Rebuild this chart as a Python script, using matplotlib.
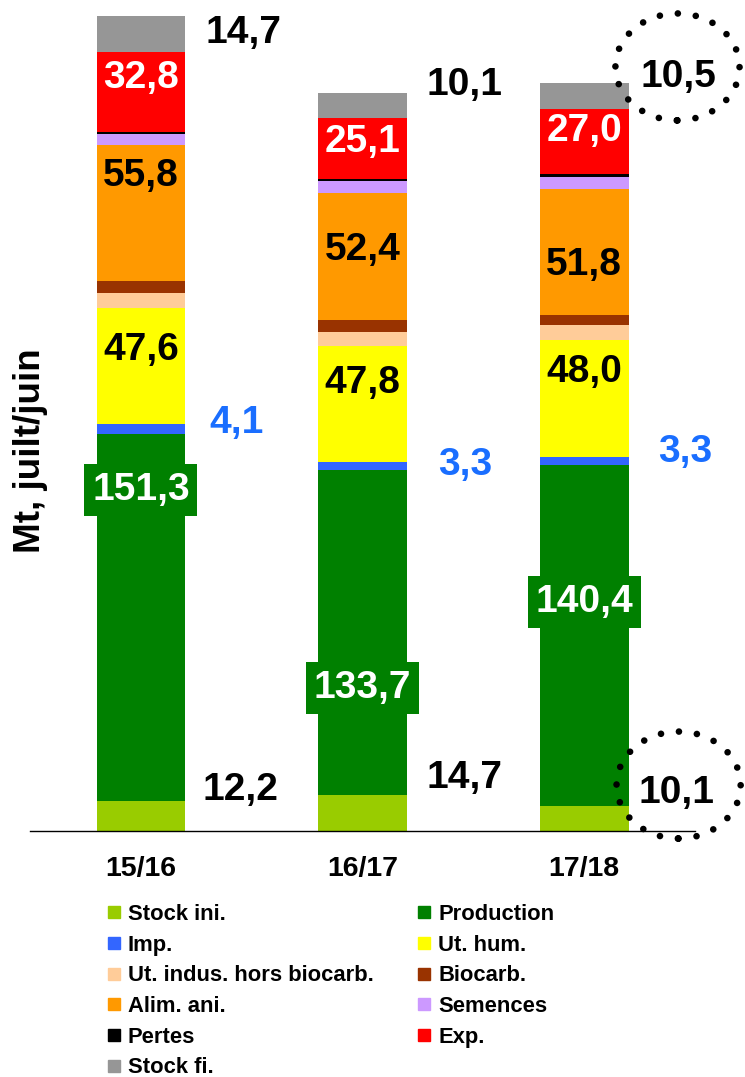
import matplotlib
matplotlib.use("Agg")
import numpy as np
import matplotlib.pyplot as plt
from matplotlib.lines import Line2D
from matplotlib.patches import Ellipse

plt.rcParams["font.family"] = ["Liberation Sans", "DejaVu Sans"]
plt.rcParams["font.weight"] = "bold"

# campagnes (juillet/juin)
campagnes = ["15/16", "16/17", "17/18"]

# disponibilités
stock_ini = [12.2, 14.7, 10.1]
production = [151.3, 133.7, 140.4]
imp = [4.1, 3.3, 3.3]
# utilisations
ut_hum = [47.6, 47.8, 48.0]
ut_indus = [6.2, 5.9, 6.2]
biocarb = [4.8, 4.6, 4.3]
alim_ani = [55.8, 52.4, 51.8]
semences = [4.9, 5.0, 5.0]
pertes = [0.8, 0.8, 1.0]
exports = [32.8, 25.1, 27.0]
stock_fi = [14.7, 10.1, 10.5]

noms = ["Stock ini.", "Production", "Imp.", "Ut. hum.",
        "Ut. indus. hors biocarb.", "Biocarb.", "Alim. ani.",
        "Semences", "Pertes", "Exp.", "Stock fi."]
valeurs = [stock_ini, production, imp, ut_hum, ut_indus, biocarb,
           alim_ani, semences, pertes, exports, stock_fi]
couleurs = ["#99CC00", "#008000", "#3366FF", "#FFFF00", "#FFCC99",
            "#993300", "#FF9900", "#CC99FF", "#000000", "#FF0000", "#969696"]

# placement des étiquettes (décalage vertical en Mt depuis le centre du segment)
decal = {
    "Stock ini.": [10.8, 14.5, 10.5],
    "Production": [52.4, -22.8, 13.9],
    "Imp.": [2.3, 0.5, 3.8],
    "Ut. hum.": [6.5, 8.7, 11.0],
    "Alim. ani.": [15.5, 2.8, -5.4],
    "Exp.": [5.8, 2.6, 4.3],
    "Stock fi.": [0.5, 8.6, 7.8],
}
ecart_ext = {
    "Stock ini.": [0.08, 0.09, 0.045],
    "Imp.": [0.11, 0.14, 0.135],
    "Stock fi.": [0.09, 0.09, 0.054],
}

fig = plt.figure(figsize=(7.45, 10.77), dpi=100)
px_mt = 2.431
ymax = 340
ax = fig.add_axes([30 / 745, (1077 - 831) / 1077, 665 / 745, ymax * px_mt / 1077])

x = np.arange(len(campagnes))
larg = 0.4
bas = np.zeros(len(campagnes))
segments = {}
for nom, vals, c in zip(noms, valeurs, couleurs):
    vals = np.array(vals)
    ax.bar(x, vals, larg, bottom=bas, color=c, linewidth=0)
    segments[nom] = (bas.copy(), vals)
    bas = bas + vals

fs = 28
for nom, dy in decal.items():
    b, h = segments[nom]
    for i in range(len(campagnes)):
        txt = f"{h[i]:.1f}".replace(".", ",")
        y = b[i] + h[i] / 2 + dy[i]
        if nom in ecart_ext:
            col = "#1A6EFF" if nom == "Imp." else "black"
            ax.text(x[i] + larg / 2 + ecart_ext[nom][i], y, txt, ha="left", va="center",
                    fontsize=fs, fontweight="bold", color=col)
        elif nom == "Production":
            ax.text(x[i], y, txt, ha="center", va="center", fontsize=fs,
                    fontweight="bold", color="white",
                    bbox=dict(boxstyle="square,pad=0.2", fc="#008000", ec="none"))
        else:
            col = "white" if nom == "Exp." else "black"
            ax.text(x[i], y, txt, ha="center", va="center", fontsize=fs,
                    fontweight="bold", color=col)

# cercles pointillés autour des stocks de la dernière campagne
for (cx, cy) in [(2.421, 314.3), (2.426, 18.9)]:
    e = Ellipse((cx, cy), 0.56, 44, fill=False, ec="black", lw=4.8,
                linestyle=(0, (0.001, 2.72)), clip_on=False)
    e.set_capstyle("round")
    ax.add_patch(e)

ax.set_xlim(-0.5, 2.5)
ax.set_ylim(0, ymax)
ax.set_xticks(x)
ax.set_xticklabels(campagnes, fontsize=20.5, fontweight="bold")
ax.tick_params(axis="x", length=0, pad=18)
ax.set_yticks([])
for s in ["left", "right", "top"]:
    ax.spines[s].set_visible(False)
ax.spines["bottom"].set_linewidth(1)

fig.text(31 / 745, 1 - 451 / 1077, "Mt, juilt/juin", rotation=90, ha="center",
         va="center", fontsize=26.5, fontweight="bold")

poignees = [Line2D([], [], marker="s", ls="none", color=c, markersize=9)
            for c in couleurs]
ordre = [0, 2, 4, 6, 8, 10, 1, 3, 5, 7, 9]
fig.legend([poignees[i] for i in ordre], [noms[i] for i in ordre],
           loc="upper left", bbox_to_anchor=(106 / 745, 1 - 904 / 1077),
           ncol=2, frameon=False, prop=dict(size=15.8, weight="bold"),
           handlelength=0.7, handletextpad=0.3, labelspacing=0.44,
           columnspacing=1.95, borderpad=0, borderaxespad=0)

fig.savefig("out.png", dpi=100)
